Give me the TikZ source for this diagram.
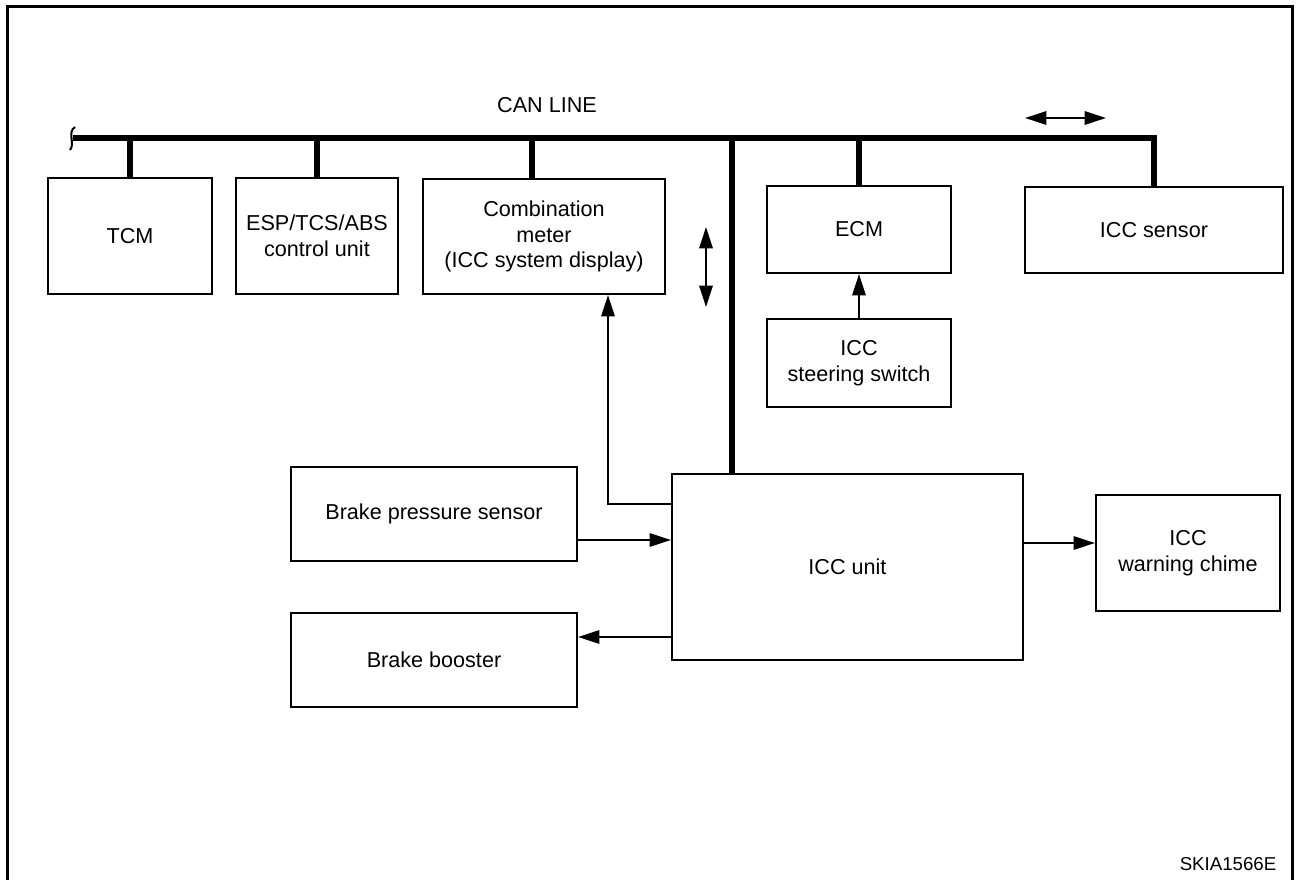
\documentclass[tikz,border=0pt]{standalone}
\usepackage{fontspec}
\setmainfont{Liberation Sans}
\usetikzlibrary{arrows.meta}
\begin{document}
\begin{tikzpicture}[x=0.75pt,y=-0.75pt,
  box/.style={draw, line width=1.6pt, inner sep=0pt, align=center,
    font=\fontsize{16.2pt}{19.2pt}\selectfont},
  bus/.style={line width=4pt},
  arr/.style={line width=1.5pt, -{Triangle[length=16pt,width=10pt]}},
  darr/.style={line width=1.5pt, {Triangle[length=16pt,width=10pt]}-{Triangle[length=16pt,width=10pt]}},
  frame/.style={line width=2.25pt},
  lbl/.style={inner sep=0pt, font=\fontsize{16.2pt}{19.2pt}\selectfont}]
\useasboundingbox (0,0) rectangle (1297,880);
\draw[frame] (7,880) -- (7,7) -- (1292,7) -- (1292,880);

% boxes
\node[box, minimum width=123pt, minimum height=87pt] (tcm) at (130,236) {TCM};
\node[box, minimum width=121.5pt, minimum height=87pt] (esp) at (317,236) {ESP/TCS/ABS\\control unit};
\node[box, minimum width=181.5pt, minimum height=86.25pt] (comb) at (544,236.5) {Combination\\meter\\(ICC system display)};
\node[box, minimum width=138pt, minimum height=65.25pt] (ecm) at (859,229.5) {ECM};
\node[box, minimum width=138pt, minimum height=66pt] (steer) at (859,363) {ICC\\steering switch};
\node[box, minimum width=193.5pt, minimum height=64.5pt] (sensor) at (1154,230) {ICC sensor};
\node[box, minimum width=214.5pt, minimum height=70.5pt] (bps) at (434,514) {Brake pressure sensor};
\node[box, minimum width=214.5pt, minimum height=70.5pt] (booster) at (434,660) {Brake booster};
\node[box, minimum width=263.25pt, minimum height=139.5pt] (unit) at (847.5,567) {ICC unit};
\node[box, minimum width=138pt, minimum height=87pt] (chime) at (1188,553) {ICC\\warning chime};

% labels
\node[lbl] (canlabel) at (547,105) {CAN LINE};
\node[inner sep=0pt, font=\fontsize{14pt}{16pt}\selectfont] (skia) at (1228,864) {SKIA1566E};

% CAN bus
\coordinate (busL) at (73,138);
\draw[line width=1.5pt] (75,127) .. controls (71,129.5) and (71,134) .. (71.5,138)
   .. controls (72,143) and (72.5,147.5) .. (70,150);
\draw[bus, line join=miter] (busL) -| (sensor.north);
\draw[bus] (tcm.north) -- (tcm.north |- busL);
\draw[bus] (esp.north) -- (esp.north |- busL);
\draw[bus] ([xshift=-9pt]comb.north) -- ([xshift=-9pt]comb.north |- busL);
\draw[bus] (ecm.north) -- (ecm.north |- busL);
\draw[bus] ([xshift=-86.6pt]unit.north) -- ([xshift=-86.6pt]unit.north |- busL);

% signal arrows
\draw[arr] (steer.north) -- (ecm.south);
\draw[arr] ([yshift=47.25pt]unit.west) -| ([xshift=48pt]comb.south);
\draw[arr] ([yshift=-19.5pt]bps.east) -- ([yshift=-19.5pt]bps.east -| unit.west);
\draw[arr] ([yshift=17.25pt]booster.east -| unit.west) -- ([yshift=17.25pt]booster.east);
\draw[arr] ([yshift=7.5pt]chime.west -| unit.east) -- ([yshift=7.5pt]chime.west);

% legend double arrows
\coordinate (va1) at (706,227);
\coordinate (va2) at (706,307);
\coordinate (ha1) at (1025,118);
\coordinate (ha2) at (1106,118);
\draw[darr] (va1) -- (va2);
\draw[darr] (ha1) -- (ha2);
\end{tikzpicture}
\end{document}
